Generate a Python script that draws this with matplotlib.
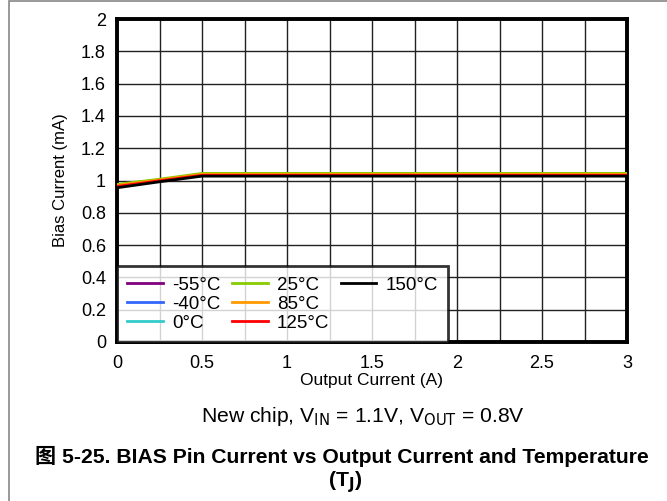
import matplotlib.pyplot as plt
from matplotlib.lines import Line2D
from matplotlib.patches import Rectangle

plt.rcParams['font.family'] = ['Liberation Sans', 'Noto Sans CJK SC', 'DejaVu Sans']

# Output current (A)
out_current = [0, 0.25, 0.5, 1.0, 1.5, 2.0, 2.5, 3.0]

# Bias current (mA) per junction temperature
temps = ['-55°C', '-40°C', '0°C', '25°C', '85°C', '125°C', '150°C']
colors = ['#800080', '#3366ff', '#33cccc', '#88cc00', '#ff9900', '#ff0000', '#000000']
bias = {
    '-55°C': [0.970, 1.000, 1.036, 1.036, 1.036, 1.036, 1.036, 1.036],
    '-40°C': [0.972, 1.002, 1.038, 1.038, 1.038, 1.038, 1.038, 1.038],
    '0°C':   [0.974, 1.004, 1.040, 1.040, 1.040, 1.040, 1.040, 1.040],
    '25°C':  [0.976, 1.008, 1.044, 1.044, 1.044, 1.044, 1.044, 1.044],
    '85°C':  [0.970, 1.003, 1.038, 1.038, 1.038, 1.038, 1.038, 1.038],
    '125°C': [0.963, 0.998, 1.032, 1.032, 1.032, 1.032, 1.032, 1.032],
    '150°C': [0.955, 0.992, 1.027, 1.027, 1.027, 1.027, 1.027, 1.027],
}

W, H = 667, 501
fig = plt.figure(figsize=(6.67, 5.01), dpi=100)
# axes box in pixels: left 117, top 19, right 627, bottom 342
ax = fig.add_axes([117 / W, 1 - 342 / H, 510 / W, 323 / H])

handles = []
for t, c in zip(temps, colors):
    h, = ax.plot(out_current, bias[t], color=c, lw=2, label=t, zorder=3)
    handles.append(h)

ax.set_xlim(0, 3)
ax.set_ylim(0, 2)
ax.set_xticks([i * 0.25 for i in range(13)])
ax.set_xticklabels(['0', '', '0.5', '', '1', '', '1.5', '', '2', '', '2.5', '', '3'])
ax.set_yticks([i * 0.2 for i in range(11)])
ax.set_yticklabels(['0', '0.2', '0.4', '0.6', '0.8', '1', '1.2', '1.4', '1.6', '1.8', '2'])
ax.tick_params(length=0, labelsize=13)
ax.tick_params(axis='y', pad=8)
ax.tick_params(axis='x', pad=9)
ax.grid(True, color='#222222', lw=1.0)
for s in ax.spines.values():
    s.set_linewidth(2.8)

ax.set_xlabel('Output Current (A)', fontsize=12.5)
ax.xaxis.set_label_coords(0.5, (342 - 381) / 323)
ax.xaxis.label.set_verticalalignment('center')
ax.set_ylabel('Bias Current (mA)', fontsize=12)
ax.yaxis.set_label_coords((60.5 - 117) / 510, 0.5)
ax.yaxis.label.set_verticalalignment('center')

# row-major legend: pad the last column with blank entries
blank = Line2D([], [], color='none')
leg_h = handles[:6] + [handles[6], blank, blank]
leg_l = temps[:6] + [temps[6], '', '']
leg = ax.legend(leg_h, leg_l, ncol=3, loc='lower left', fontsize=13.5, frameon=True,
                fancybox=False, borderaxespad=0, handlelength=1.9, columnspacing=0.6,
                labelspacing=0.1, borderpad=0.55, handletextpad=0.5)
leg.get_frame().set_edgecolor('black')
leg.get_frame().set_linewidth(2)
leg.set_zorder(5)

fig.text(363 / W, 1 - 422 / H,
         'New chip, V$_{\\mathrm{IN}}$ = 1.1V, V$_{\\mathrm{OUT}}$ = 0.8V',
         ha='center', va='baseline', fontsize=15.2)
fig.text(342 / W, 1 - 463 / H,
         '图 5-25. BIAS Pin Current vs Output Current and Temperature',
         ha='center', va='baseline', fontsize=15.2, fontweight='bold')
fig.text(345 / W, 1 - 486 / H, '(T$_{\\mathbf{J}}$)',
         ha='center', va='baseline', fontsize=15.2, fontweight='bold')

fig.patches.append(Rectangle((9 / W, -0.01), 1.0, 1 - 1.5 / H + 0.01,
                             transform=fig.transFigure, fill=False,
                             edgecolor='#888888', lw=1.2))

fig.savefig('out.png', dpi=100)
